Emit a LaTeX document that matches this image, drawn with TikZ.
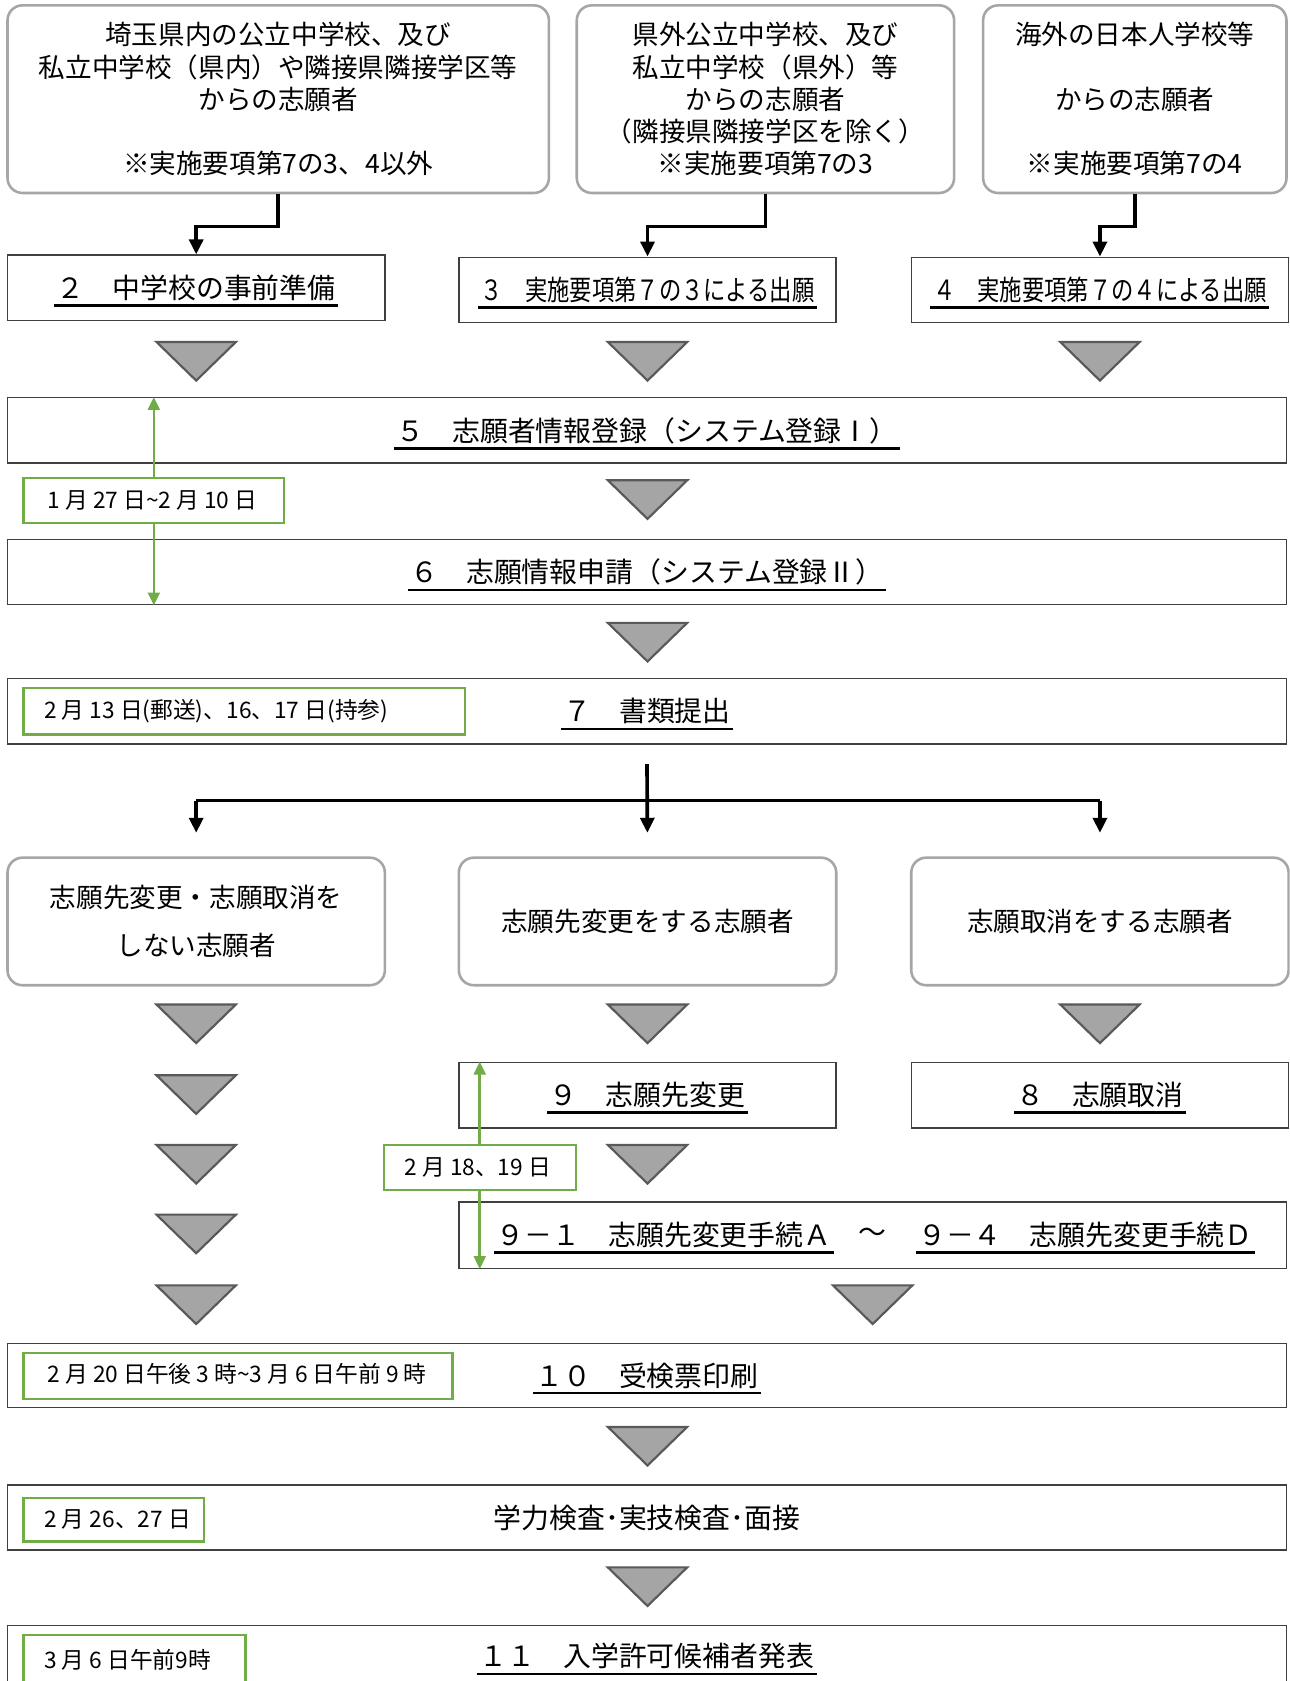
\documentclass[tikz,border=0pt]{standalone}
\usepackage{fontspec}
\usepackage{graphicx}
\setmainfont{Noto Sans CJK JP}
\usetikzlibrary{fit,arrows.meta,calc}
\definecolor{grn}{HTML}{70AD47}
\definecolor{trifill}{HTML}{A5A5A5}
\definecolor{triline}{HTML}{595959}
\definecolor{rboxc}{HTML}{A6A6A6}
\definecolor{sboxc}{HTML}{404040}
\newcommand\tridown[2]{\draw[trishape] (#1-37,#2) -- (#1+37,#2) -- (#1,#2+36) -- cycle;}
\begin{document}
\begin{tikzpicture}[x=0.5pt,y=-0.5pt,
 rbx/.style={draw=rboxc, line width=1.2pt, rounded corners=7pt, inner sep=0pt},
 sbx/.style={draw=sboxc, line width=0.7pt, inner sep=0pt},
 gbx/.style={draw=grn, line width=1.1pt, fill=white, inner sep=0pt},
 maintext/.style={font=\fontsize{13}{15.6}\selectfont},
 toptext/.style={font=\fontsize{12.4}{15}\selectfont, align=center},
 ultext/.style={maintext, inner xsep=1pt, inner ysep=2pt,
   append after command={(\tikzlastnode.south west) edge[line width=1.2pt] (\tikzlastnode.south east)}},
 datetext/.style={font=\fontsize{10.6}{12}\selectfont, anchor=west, inner sep=0pt},
 blk/.style={line width=1.7pt, -{Triangle[width=6.5pt,length=7pt]}},
 garr/.style={grn, line width=1.2pt, {Triangle[width=5.5pt,length=6pt]}-{Triangle[width=5.5pt,length=6pt]}},
 trishape/.style={fill=trifill, draw=triline, line width=1pt, line join=miter}
]
\useasboundingbox (0,0) rectangle (1203,1568);
\clip (0,0) rectangle (1203,1568);
\fill[white] (0,0) rectangle (1203,1568);

% top rounded boxes
\node[rbx, fit={(7,5)(512,180)}] (A) {};
\node[toptext] (At) at (A.center) {埼玉県内の公立中学校、及び\\私立中学校（県内）や隣接県隣接学区等\\からの志願者\\[15pt]※実施要項第7の3、4以外};
\node[rbx, fit={(538,5)(890,180)}] (B) {};
\node[toptext] (Bt) at (B.center) {県外公立中学校、及び\\私立中学校（県外）等\\からの志願者\\（隣接県隣接学区を除く）\\※実施要項第7の3};
\node[rbx, fit={(917,5)(1200,180)}] (C) {};
\node[toptext] (Ct) at (C.center) {海外の日本人学校等\\[15pt]からの志願者\\[15pt]※実施要項第7の4};

% row 2
\node[sbx, fit={(7,238)(359,299)}] (b2) {};
\node[ultext] (b2t) at (b2.center) {２　中学校の事前準備};
\node[sbx, fit={(428,240)(780,301)}] (b3) {};
\node[ultext] (b3t) at (b3.center) {\scalebox{0.8}[1]{３　実施要項第７の３による出願}};
\node[sbx, fit={(850,240)(1202,301)}] (b4) {};
\node[ultext] (b4t) at (b4.center) {\scalebox{0.8}[1]{４　実施要項第７の４による出願}};

\draw[blk] (A.south) -- ++(0,30) -| (b2.north);
\draw[blk] (B.south) -- ++(0,30) -| (b3.north);
\draw[blk] (C.south) -- ++(0,30) -| (b4.north);

\tridown{183}{319}\tridown{604}{319}\tridown{1026}{319}

% 5, 6
\node[sbx, fit={(7,371)(1200,432)}] (b5) {};
\node[ultext] (b5t) at (b5.center) {５　志願者情報登録（システム登録Ⅰ）};
\node[sbx, fit={(7,503)(1200,564)}] (b6) {};
\node[ultext] (b6t) at (b6.center) {６　志願情報申請（システム登録Ⅱ）};
\tridown{604}{448}
\node[gbx, fit={(22,446)(265,488)}] (d1) {};
\draw[garr] (d1.center |- b5.north) -- (d1.center |- b6.south);
\node[gbx, fit={(22,446)(265,488)}] (d1b) {};
\node[datetext] (d1t) at ($(d1b.west)+(23,0)$) {1 月 27 日\textasciitilde 2 月 10 日};

\tridown{604}{581}

% 7
\node[sbx, fit={(7,633)(1200,694)}] (b7) {};
\node[ultext] (b7t) at (b7.center) {７　書類提出};
\node[gbx, fit={(22,642)(434,685)}] (d7) {};
\node[datetext] (d7t) at ($(d7.west)+(20,0)$) {2 月 13 日(郵送)、16、17 日(持参)};

% branch
\node[rbx, fit={(7,800)(359,919)}] (D) {};
\node[toptext, font=\fontsize{12.4}{22}\selectfont] (Dt) at (D.center) {志願先変更・志願取消を\\しない志願者};
\node[rbx, fit={(428,800)(780,919)}] (E) {};
\node[toptext] (Et) at (E.center) {志願先変更をする志願者};
\node[rbx, fit={(850,800)(1202,919)}] (F) {};
\node[toptext] (Ft) at (F.center) {志願取消をする志願者};

\coordinate (bs) at ($(b7.south)+(0,18)$);
\coordinate (bj) at ($(b7.south)+(0,52)$);
\draw[line width=1.7pt] (D.north |- bj) -- (F.north |- bj);
\draw[blk, shorten >=11pt] (bs) -- (E.north);
\draw[blk, shorten >=11pt] (D.north |- bj) -- (D.north);
\draw[blk, shorten >=11pt] (F.north |- bj) -- (F.north);

\tridown{183}{937}\tridown{604}{937}\tridown{1026}{937}
\tridown{183}{1003}
\tridown{183}{1068}\tridown{604}{1068}
\tridown{183}{1133}
\tridown{183}{1199}\tridown{814}{1199}

% 9, 8, 9-1
\node[sbx, fit={(428,991)(780,1052)}] (b9) {};
\node[ultext] (b9t) at (b9.center) {９　志願先変更};
\node[sbx, fit={(850,991)(1202,1052)}] (b8) {};
\node[ultext] (b8t) at (b8.center) {８　志願取消};
\node[sbx, fit={(428,1121)(1200,1183)}] (b91) {};
\node[maintext] (tilde) at (b91.center) {～};
\node[ultext, anchor=east] (b91a) at ($(tilde.west)+(-16,0)$) {９－１　志願先変更手続Ａ};
\node[ultext, anchor=west] (b91b) at ($(tilde.east)+(20,0)$) {９－４　志願先変更手続Ｄ};
\node[gbx, fit={(358,1068)(537,1110)}] (d2) {};
\draw[garr] (d2.center |- b9.north) -- (d2.center |- b91.south);
\node[gbx, fit={(358,1068)(537,1110)}] (d2b) {};
\node[datetext] (d2t) at ($(d2b.west)+(20,0)$) {2 月 18、19 日};

% 10
\node[sbx, fit={(7,1253)(1200,1313)}] (b10) {};
\node[ultext] (b10t) at (b10.center) {１０　受検票印刷};
\node[gbx, fit={(22,1262)(422,1305)}] (d10) {};
\node[datetext] (d10t) at ($(d10.west)+(23,-2)$) {2 月 20 日午後 3 時\textasciitilde 3 月 6 日午前 9 時};

\tridown{604}{1331}

% exam
\node[sbx, fit={(7,1385)(1200,1446)}] (bex) {};
\node[maintext] (bext) at (bex.center) {学力検査･実技検査･面接};
\node[gbx, fit={(22,1397)(190,1438)}] (dex) {};
\node[datetext] (dext) at ($(dex.west)+(20,0)$) {2 月 26、27 日};

\tridown{604}{1462}

% 11
\node[sbx, fit={(7,1516)(1200,1580)}] (b11) {};
\node[ultext] (b11t) at ($(b11.center)+(0,-3)$) {１１　入学許可候補者発表};
\node[gbx, fit={(22,1525)(229,1571)}] (d11) {};
\node[datetext] (d11t) at ($(d11.west)+(20,0)$) {3 月 6 日午前9時};
\end{tikzpicture}
\end{document}
